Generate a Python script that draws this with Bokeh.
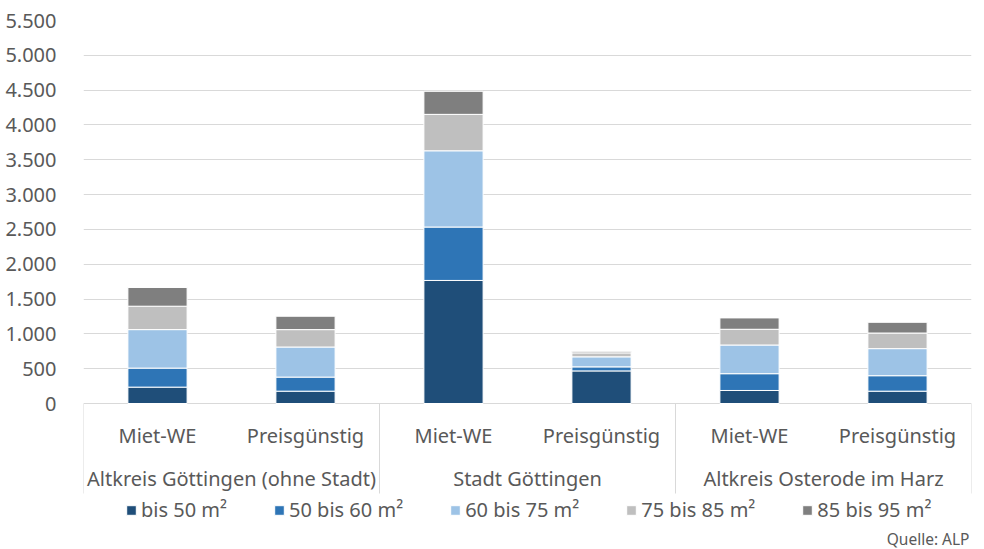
import numpy as np
from bokeh.plotting import figure
from bokeh.models import (ColumnDataSource, FixedTicker, CustomJSTickFormatter, Range1d,
                          Legend, LegendItem)
from bokeh.core.properties import value
from bokeh.embed import file_html
from bokeh.resources import INLINE

# Regions and housing types
groups = ["Altkreis Göttingen (ohne Stadt)", "Stadt Göttingen", "Altkreis Osterode im Harz"]
subtypes = ["Miet-WE", "Preisgünstig"]

# Apartment size classes (stacked from bottom to top)
size_classes = ["bis 50 m²", "50 bis 60 m²", "60 bis 75 m²", "75 bis 85 m²", "85 bis 95 m²"]
colors = ["#1F4E79", "#2E75B6", "#9DC3E6", "#BFBFBF", "#7F7F7F"]

# Number of dwellings per size class, one value per bar
# (bar order: group 1 Miet-WE, group 1 Preisgünstig, group 2 ..., group 3 ...)
bis_50 = [235, 177, 1767, 468, 187, 177]
von_50_bis_60 = [273, 202, 767, 58, 241, 222]
von_60_bis_75 = [553, 432, 1095, 144, 412, 389]
von_75_bis_85 = [336, 250, 523, 57, 226, 224]
von_85_bis_95 = [269, 192, 331, 22, 163, 154]

y_ticks = [0, 500, 1000, 1500, 2000, 2500, 3000, 3500, 4000, 4500, 5000, 5500]

FONT = "Noto Sans"
FONT_SIZE = "20px"
TEXT = "#595959"
GRID = "#D9D9D9"

W, H = 984, 549
TOP, LEFT, RIGHT = 20, 83, 13
Y_MAX = 5500
PLOT_PX = 383  # pixels between 0 and Y_MAX


def below(px):
    """Data y-coordinate lying px pixels below the zero line."""
    return -px * Y_MAX / PLOT_PX


y_min = below(H - TOP - PLOT_PX)

n_bars = len(groups) * len(subtypes)
x = np.arange(n_bars) + 0.5
keys = ["s0", "s1", "s2", "s3", "s4"]
source = ColumnDataSource(dict(x=x, s0=bis_50, s1=von_50_bis_60, s2=von_60_bis_75,
                               s3=von_75_bis_85, s4=von_85_bis_95))

p = figure(width=W, height=H, output_backend="svg", toolbar_location=None,
           x_range=Range1d(0, n_bars), y_range=Range1d(y_min, Y_MAX),
           x_axis_location=None, min_border_left=LEFT, min_border_right=RIGHT,
           min_border_top=TOP, min_border_bottom=0)
p.outline_line_color = None
p.background_fill_color = "white"
p.border_fill_color = "white"
p.xgrid.visible = False

p.ygrid.ticker = FixedTicker(ticks=y_ticks)
p.ygrid.grid_line_color = GRID
p.ygrid.grid_line_width = 1

yax = p.yaxis[0]
yax.ticker = FixedTicker(ticks=y_ticks)
yax.formatter = CustomJSTickFormatter(
    code="return tick.toFixed(0).replace(/\\B(?=(\\d{3})+(?!\\d))/g, '.');")
yax.axis_line_color = None
yax.major_tick_line_color = None
yax.minor_tick_line_color = None
yax.major_label_standoff = 21
yax.major_label_text_font = FONT
yax.major_label_text_font_size = FONT_SIZE
yax.major_label_text_color = TEXT

renderers = p.vbar_stack(keys, x="x", width=0.4, source=source, color=colors,
                         line_color="white", line_width=1)

# Category axis: separators, subtype labels and group labels
sep_x = [0, 2, 4, 6]
p.segment(x0=sep_x, y0=[0] * 4, x1=sep_x, y1=[below(90)] * 4,
          line_color=GRID, line_width=1)

sub_labels = subtypes * len(groups)
p.text(x=x, y=[below(32)] * n_bars, text=sub_labels, text_align="center",
       text_baseline="middle", text_font=value(FONT), text_font_size=FONT_SIZE,
       text_color=TEXT)

group_x = [1, 3, 5]
p.text(x=group_x, y=[below(75)] * 3, text=groups, text_align="center",
       text_baseline="middle", text_font=value(FONT), text_font_size=FONT_SIZE,
       text_color=TEXT)

p.text(x=[n_bars], y=[below(135)], text=["Quelle: ALP"], text_align="right",
       text_baseline="middle", text_font=value(FONT), text_font_size="15.5px",
       text_color=TEXT, x_offset=-2)

legend = Legend(items=[LegendItem(label=lbl, renderers=[r])
                       for lbl, r in zip(size_classes, renderers)],
                orientation="horizontal", location=(42, 26))
legend.background_fill_alpha = 0
legend.border_line_color = None
legend.padding = 0
legend.margin = 0
legend.spacing = 46
legend.glyph_width = 12
legend.glyph_height = 12
legend.label_standoff = 4
legend.label_text_font = FONT
legend.label_text_font_size = FONT_SIZE
legend.label_text_color = TEXT
p.add_layout(legend)

open("out.html", "w").write(file_html(p, INLINE))
